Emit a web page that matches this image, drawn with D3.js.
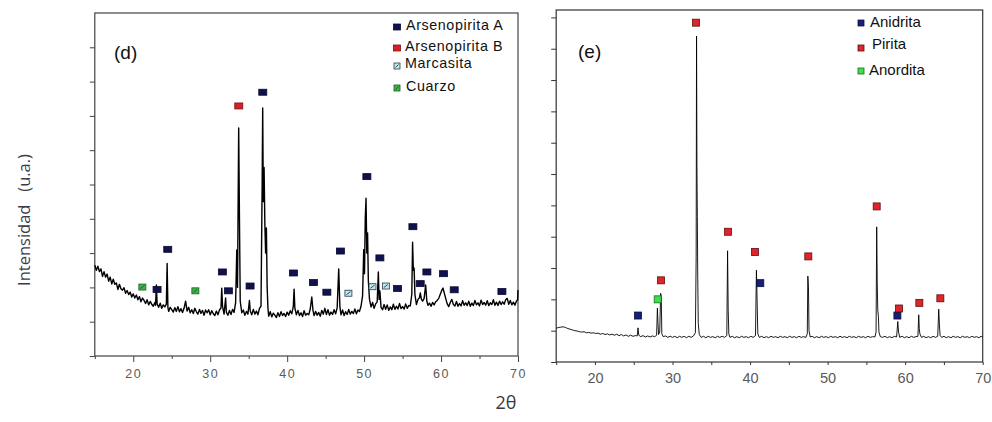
<!DOCTYPE html>
<html><head><meta charset="utf-8">
<script src="https://cdn.jsdelivr.net/npm/d3@7"></script>
<style>body{margin:0;background:#fff}svg{display:block}</style>
</head><body>
<script>
// ---- data (2θ, intensity in arbitrary units 0-100) ----
const xMajorTicks = [20,30,40,50,60,70];
const xMinorTicks = [15,25,35,45,55,65];
const yLabel = "Intensidad   (u.a.)";
const xLabel = "2θ";

const dPattern = [
[15.0,26.5],[15.2,25.0],[15.4,26.2],[15.6,24.6],[15.8,25.4],[16.0,23.2],[16.2,24.6],[16.4,23.0],[16.6,23.9],[16.8,21.8],[17.0,23.0],[17.2,21.0],[17.4,22.4],[17.6,20.9],[17.8,21.3],[18.0,19.4],[18.2,20.9],[18.4,19.6],[18.6,19.2],[18.8,19.9],[19.0,18.3],[19.2,19.1],[19.4,17.9],[19.6,18.6],[19.8,17.2],[20.0,18.1],[20.2,16.9],[20.4,17.8],[20.6,16.4],[20.8,17.3],[21.0,15.8],[21.2,16.9],[21.4,16.2],[21.6,15.3],[21.8,16.4],[22.0,14.9],[22.2,15.9],[22.4,15.1],[22.6,14.5],[22.8,15.6],[22.9,14.8],[23.0,20.7],[23.1,15.2],[23.3,14.2],[23.5,15.4],[23.7,13.9],[23.9,14.9],[24.1,14.3],[24.3,15.1],[24.4,27.0],[24.5,14.2],[24.6,13.0],[24.8,14.2],[25.0,13.5],[25.2,12.8],[25.4,14.1],[25.6,13.0],[25.8,14.4],[26.0,12.9],[26.2,13.8],[26.4,12.7],[26.6,13.9],[26.8,16.0],[27.0,13.1],[27.2,14.2],[27.4,12.6],[27.6,13.5],[27.8,12.4],[28.0,13.9],[28.2,12.9],[28.4,12.2],[28.6,13.6],[28.8,12.4],[29.0,13.3],[29.2,11.9],[29.4,13.4],[29.6,12.6],[29.8,13.5],[30.0,12.0],[30.2,13.2],[30.4,12.3],[30.6,11.8],[30.8,13.1],[31.0,12.0],[31.2,13.4],[31.4,14.0],[31.5,19.8],[31.6,14.5],[31.8,12.2],[32.0,16.9],[32.1,12.7],[32.3,11.9],[32.5,13.3],[32.7,12.1],[32.9,13.6],[33.1,12.7],[33.3,15.5],[33.45,30.9],[33.55,20.0],[33.7,66.5],[33.8,40.0],[33.9,16.0],[34.1,12.6],[34.3,13.4],[34.5,11.9],[34.7,13.0],[34.9,12.2],[35.1,16.2],[35.2,13.1],[35.4,12.0],[35.6,13.6],[35.8,12.2],[36.0,13.1],[36.2,12.0],[36.4,13.9],[36.6,14.5],[36.75,50.0],[36.82,72.3],[36.9,45.0],[37.0,55.0],[37.1,38.5],[37.2,30.0],[37.3,37.3],[37.4,20.0],[37.5,14.0],[37.6,11.6],[37.8,12.9],[38.0,11.4],[38.2,12.5],[38.4,11.9],[38.6,11.2],[38.8,12.6],[39.0,11.5],[39.2,12.9],[39.4,11.8],[39.6,12.4],[39.8,11.5],[40.0,12.8],[40.2,11.9],[40.4,13.2],[40.6,12.3],[40.8,14.5],[40.9,19.5],[41.0,14.0],[41.2,12.0],[41.4,13.3],[41.6,11.8],[41.8,12.6],[42.0,11.5],[42.2,13.2],[42.4,11.9],[42.6,12.4],[42.8,12.0],[43.0,13.7],[43.2,17.2],[43.35,13.4],[43.5,11.8],[43.7,13.0],[43.9,11.9],[44.1,12.7],[44.3,11.6],[44.5,13.3],[44.7,12.2],[44.9,13.9],[45.1,12.1],[45.3,13.5],[45.5,11.9],[45.7,12.8],[45.9,12.1],[46.1,13.5],[46.3,12.3],[46.5,14.1],[46.7,25.4],[46.85,14.4],[47.0,12.0],[47.2,13.4],[47.4,11.8],[47.6,12.9],[47.8,12.1],[48.0,13.6],[48.2,12.2],[48.4,13.0],[48.6,12.4],[48.8,13.7],[49.0,12.3],[49.2,13.4],[49.4,13.0],[49.6,14.5],[49.8,17.5],[49.95,31.0],[50.05,24.0],[50.15,40.0],[50.25,46.0],[50.35,30.0],[50.45,35.9],[50.55,22.0],[50.7,16.5],[50.9,14.3],[51.1,15.6],[51.3,13.9],[51.5,15.2],[51.7,15.8],[51.85,24.5],[51.95,16.5],[52.05,19.0],[52.2,14.2],[52.4,13.5],[52.6,15.0],[52.8,13.6],[53.0,14.9],[53.2,13.3],[53.4,14.3],[53.6,13.5],[53.8,15.1],[54.0,13.6],[54.2,14.5],[54.4,13.7],[54.6,15.3],[54.8,13.8],[55.0,14.4],[55.2,13.7],[55.4,15.2],[55.6,13.9],[55.8,14.7],[56.0,14.6],[56.2,18.0],[56.3,33.2],[56.4,25.0],[56.5,25.6],[56.6,18.0],[56.8,15.0],[57.0,16.5],[57.2,17.0],[57.3,18.4],[57.45,16.5],[57.6,16.0],[57.8,16.8],[58.0,20.7],[58.15,16.0],[58.3,14.8],[58.5,15.4],[58.7,14.5],[58.9,15.6],[59.1,14.9],[59.3,15.8],[59.5,16.2],[59.7,16.8],[59.9,18.0],[60.1,19.2],[60.25,19.8],[60.4,18.5],[60.6,16.8],[60.8,15.2],[61.0,14.4],[61.2,15.6],[61.4,16.5],[61.6,15.0],[61.8,14.6],[62.0,15.9],[62.2,14.5],[62.4,15.3],[62.6,14.6],[62.8,16.1],[63.0,14.8],[63.2,15.5],[63.4,14.7],[63.6,16.0],[63.8,14.5],[64.0,15.4],[64.2,14.7],[64.4,16.2],[64.6,14.9],[64.8,15.5],[65.0,14.6],[65.2,16.3],[65.4,15.0],[65.6,15.6],[65.8,14.8],[66.0,16.1],[66.2,14.7],[66.4,15.5],[66.6,15.0],[66.8,16.4],[67.0,14.8],[67.2,15.7],[67.4,14.7],[67.6,16.0],[67.8,15.0],[68.0,15.8],[68.2,15.1],[68.4,16.4],[68.6,16.8],[68.8,15.1],[69.0,16.2],[69.2,14.9],[69.4,15.7],[69.6,14.8],[69.8,16.0],[69.95,16.4],[70.0,19.2]
];

const ePattern = [
[15.0,9.6],[15.3,9.8],[15.6,9.9],[15.9,10.0],[16.2,9.8],[16.5,9.5],[16.8,9.3],[17.1,9.1],[17.4,8.9],[17.7,8.8],[18.0,8.6],[18.3,8.5],[18.6,8.6],[18.9,8.3],[19.2,8.4],[19.5,8.2],[19.8,8.3],[20.1,8.1],[20.4,8.2],[20.7,7.9],[21.0,8.1],[21.3,7.8],[21.6,8.0],[21.9,7.7],[22.2,7.9],[22.5,7.6],[22.8,7.9],[23.1,7.5],[23.4,7.8],[23.7,7.4],[24.0,7.7],[24.3,7.3],[24.6,7.6],[24.9,7.3],[25.2,7.5],[25.45,7.4],[25.55,9.7],[25.65,7.6],[25.9,7.2],[26.2,7.5],[26.5,7.1],[26.8,7.4],[27.1,7.1],[27.4,7.4],[27.7,7.2],[27.95,7.6],[28.05,15.3],[28.12,11.4],[28.2,7.8],[28.35,8.5],[28.47,19.5],[28.55,18.6],[28.62,8.0],[28.8,7.2],[29.1,7.4],[29.4,7.0],[29.7,7.3],[30.0,7.0],[30.3,7.3],[30.6,6.9],[30.9,7.3],[31.2,7.0],[31.5,7.3],[31.8,6.9],[32.1,7.3],[32.4,7.0],[32.7,7.4],[32.95,8.3],[33.05,30.0],[33.1,92.6],[33.15,55.5],[33.2,41.3],[33.25,24.7],[33.32,11.0],[33.45,7.8],[33.7,7.0],[34.0,7.3],[34.3,6.9],[34.6,7.3],[34.9,7.0],[35.2,7.2],[35.5,6.9],[35.8,7.3],[36.1,7.0],[36.4,7.3],[36.7,7.0],[37.0,7.5],[37.1,31.6],[37.18,14.8],[37.26,8.0],[37.4,7.0],[37.7,7.3],[38.0,6.9],[38.3,7.2],[38.6,6.9],[38.9,7.3],[39.2,7.0],[39.5,7.2],[39.8,6.9],[40.1,7.3],[40.4,7.0],[40.7,7.5],[40.82,26.1],[40.92,16.2],[41.0,8.0],[41.2,7.0],[41.5,7.3],[41.8,6.9],[42.1,7.2],[42.4,6.9],[42.7,7.3],[43.0,7.0],[43.3,7.2],[43.6,6.9],[43.9,7.3],[44.2,7.0],[44.5,7.2],[44.8,6.9],[45.1,7.3],[45.4,7.0],[45.7,7.2],[46.0,6.9],[46.3,7.3],[46.6,7.0],[46.9,7.2],[47.2,7.0],[47.38,8.0],[47.45,24.4],[47.53,21.4],[47.6,9.0],[47.75,7.1],[48.0,7.3],[48.3,6.9],[48.6,7.2],[48.9,6.9],[49.2,7.3],[49.5,7.0],[49.8,7.2],[50.1,6.9],[50.4,7.3],[50.7,7.0],[51.0,7.2],[51.3,6.9],[51.6,7.3],[51.9,7.0],[52.2,7.2],[52.5,6.9],[52.8,7.3],[53.1,7.0],[53.4,7.2],[53.7,6.9],[54.0,7.3],[54.3,7.0],[54.6,7.2],[54.9,6.9],[55.2,7.3],[55.5,7.0],[55.8,7.2],[56.1,7.1],[56.25,8.5],[56.33,38.4],[56.4,22.5],[56.47,14.8],[56.55,13.0],[56.62,8.5],[56.8,7.2],[57.1,7.0],[57.4,7.3],[57.7,6.9],[58.0,7.2],[58.3,6.9],[58.6,7.3],[58.9,7.1],[59.05,11.5],[59.15,8.5],[59.3,7.0],[59.6,7.3],[59.9,6.9],[60.2,7.2],[60.5,6.9],[60.8,7.3],[61.1,7.0],[61.4,7.2],[61.65,7.3],[61.75,13.4],[61.82,9.5],[61.9,8.0],[62.1,7.0],[62.4,7.3],[62.7,6.9],[63.0,7.2],[63.3,6.9],[63.6,7.3],[63.9,7.0],[64.2,7.3],[64.33,15.0],[64.42,10.5],[64.5,7.6],[64.7,7.0],[65.0,7.3],[65.3,6.9],[65.6,7.2],[65.9,6.9],[66.2,7.3],[66.5,7.0],[66.8,7.2],[67.1,6.9],[67.4,7.3],[67.7,7.0],[68.0,7.2],[68.3,6.9],[68.6,7.3],[68.9,7.0],[69.2,7.2],[69.5,6.9],[69.8,7.3],[70.0,7.1]
];

// phase markers [2θ, intensity]
const dArsenopiritaA = [[36.83,76.9],[50.36,52.3],[24.48,31.1],[23.09,19.4],[31.58,24.5],[32.36,19.0],[35.18,20.4],[40.81,24.2],[43.41,21.4],[45.16,18.6],[46.92,30.6],[52.05,28.6],[54.34,19.7],[56.34,37.7],[57.29,21.1],[58.16,24.5],[60.32,24.0],[61.71,19.3],[67.91,18.8]];
const dArsenopiritaB = [[33.71,72.9]];
const dMarcasita = [[47.96,18.3],[51.09,20.2],[52.83,20.4]];
const dCuarzo = [[21.18,20.1],[28.07,19.0]];

const eAnidrita = [[25.55,13.2],[41.32,22.4],[59.0,13.2]];
const ePirita = [[33.03,96.4],[28.52,23.2],[37.16,37.0],[40.64,31.25],[47.51,30.0],[56.33,44.2],[59.21,15.2],[61.83,16.8],[64.54,18.1]];
const eAnordita = [[28.09,17.8]];

const dLegend = ["Arsenopirita A","Arsenopirita B","Marcasita","Cuarzo"];
const eLegend = ["Anidrita","Pirita","Anordita"];

// ---- drawing ----
const W = 992, H = 422;
const svg = d3.select("body").append("svg").attr("width", W).attr("height", H);
const FONT = "'Liberation Sans', Arial, sans-serif";

function panel(o) {
  const x = d3.scaleLinear().domain([15,70]).range([o.x0, o.x1]);
  const y = d3.scaleLinear().domain([0,100]).range([o.y0, o.y1]);
  const g = svg.append("g");

  g.append("rect").attr("x", o.x0).attr("y", o.y1).attr("width", o.x1 - o.x0).attr("height", o.y0 - o.y1)
    .attr("fill", "none").attr("stroke", o.frame).attr("stroke-width", 1.2);

  const yAx = d3.axisLeft(y).tickValues(o.yTicks).tickSize(5).tickFormat("");
  const ya = g.append("g").attr("transform", `translate(${o.x0},0)`).call(yAx);
  ya.select(".domain").remove();
  ya.selectAll("line").attr("stroke", o.frame);

  const xAx = d3.axisBottom(x).tickValues(xMajorTicks).tickSize(o.majT).tickPadding(o.pad).tickFormat(d3.format("d"));
  const xa = g.append("g").attr("transform", `translate(0,${o.y0})`).call(xAx);
  xa.select(".domain").remove();
  xa.selectAll("line").attr("stroke", o.frame);
  xa.selectAll("text").attr("font-family", FONT).attr("font-size", o.tickFont).attr("fill", "#5a5a5a")
    .attr("letter-spacing", o.ls);
  const xm = g.append("g").attr("transform", `translate(0,${o.y0})`)
    .call(d3.axisBottom(x).tickValues(xMinorTicks).tickSize(o.minT).tickFormat(""));
  xm.select(".domain").remove();
  xm.selectAll("line").attr("stroke", o.frame);

  const line = d3.line().x(d => x(d[0])).y(d => y(d[1]));
  g.append("path").datum(o.data).attr("d", line).attr("fill", "none")
    .attr("stroke", "#000").attr("stroke-width", o.lw).attr("stroke-linejoin", "round");

  o.series.forEach(s => {
    const mg = g.append("g");
    mg.selectAll("rect").data(s.pts).join("rect")
      .attr("x", d => x(d[0]) - s.w/2).attr("y", d => y(d[1]) - s.h/2)
      .attr("width", s.w).attr("height", s.h)
      .attr("fill", s.fill).attr("stroke", s.stroke).attr("stroke-width", 0.8);
    if (s.hatch) {
      mg.selectAll("line").data(s.pts).join("line")
        .attr("x1", d => x(d[0]) - s.w/2 + 1.5).attr("y1", d => y(d[1]) + s.h/2 - 1.5)
        .attr("x2", d => x(d[0]) + s.w/2 - 1.5).attr("y2", d => y(d[1]) - s.h/2 + 1.5)
        .attr("stroke", s.hatch).attr("stroke-width", 0.9);
    }
  });

  g.append("text").attr("x", o.lblX).attr("y", o.lblY).text(o.label)
    .attr("font-family", FONT).attr("font-size", 19).attr("fill", "#111");

  o.legend.forEach((name, i) => {
    const s = o.series[i], ly = o.legY[i];
    g.append("rect").attr("x", o.legMX - s.lw/2).attr("y", ly + o.legDy[i] - s.lh/2)
      .attr("width", s.lw).attr("height", s.lh).attr("fill", s.fill).attr("stroke", s.stroke).attr("stroke-width", 0.8);
    if (s.hatch) {
      g.append("line").attr("x1", o.legMX - s.lw/2 + 1.5).attr("y1", ly + o.legDy[i] + s.lh/2 - 1.5)
        .attr("x2", o.legMX + s.lw/2 - 1.5).attr("y2", ly + o.legDy[i] - s.lh/2 + 1.5)
        .attr("stroke", s.hatch).attr("stroke-width", 0.9);
    }
    g.append("text").attr("x", o.legTX[i]).attr("y", ly + 5).text(name)
      .attr("font-family", FONT).attr("font-size", o.legFont).attr("fill", "#111")
      .attr("letter-spacing", o.legLs);
  });
}

panel({
  x0: 94.8, x1: 518, y0: 356, y1: 13, frame: "#444",
  yTicks: [0,10,20,30,40,50,60,70,80,90],
  pad: 7, tickFont: 12.5, ls: 1.5, lw: 1.4, majT: 6, minT: 3,
  data: dPattern,
  series: [
    {pts: dArsenopiritaA, w: 8, h: 6, fill: "#11114f", stroke: "#0a0a30", lw: 7, lh: 6},
    {pts: dArsenopiritaB, w: 8, h: 6, fill: "#d81f26", stroke: "#7a1010", lw: 7, lh: 6},
    {pts: dMarcasita, w: 7, h: 6, fill: "#bfe9ea", stroke: "#223a4a", hatch: "#223a4a", lw: 6, lh: 6},
    {pts: dCuarzo, w: 7, h: 6, fill: "#3bb54a", stroke: "#1e5a22", hatch: "#1e5a22", lw: 6, lh: 6}
  ],
  label: "(d)", lblX: 114, lblY: 59,
  legend: dLegend, legMX: 397, legTX: [406, 405, 405, 406], legY: [25, 46, 63, 86], legDy: [2, 2, 3, 2],
  legFont: 14.3, legLs: 0.6
});

panel({
  x0: 556.2, x1: 982.7, y0: 362, y1: 10, frame: "#333",
  yTicks: [0,8.9,17.8,26.7,35.6,44.5,53.4,62.3,71.2,80.1,89.0,97.9],
  pad: 8, tickFont: 14.5, ls: 0, lw: 0.9, majT: 3, minT: 3,
  data: ePattern,
  series: [
    {pts: eAnidrita, w: 7, h: 7, fill: "#16207a", stroke: "#0b0f3a", lw: 6, lh: 6},
    {pts: ePirita, w: 7, h: 7, fill: "#e0242a", stroke: "#5a1010", lw: 6, lh: 6},
    {pts: eAnordita, w: 7, h: 7, fill: "#3be04a", stroke: "#1a6a22", lw: 6, lh: 6}
  ],
  label: "(e)", lblX: 578, lblY: 58,
  legend: eLegend, legMX: 861, legTX: [870, 872, 869], legY: [22, 44, 70], legDy: [1, 4, 1],
  legFont: 15, legLs: 0
});

svg.append("text").attr("transform", "translate(30,220) rotate(-90)").attr("text-anchor", "middle")
  .style("white-space", "pre")
  .text(yLabel).attr("font-family", "'Open Sans', 'Liberation Sans', sans-serif").attr("font-size", 16.5).attr("fill", "#3c3c46");
svg.append("text").attr("x", 506).attr("y", 409).attr("text-anchor", "middle")
  .text(xLabel).attr("font-family", "'Open Sans', 'Liberation Sans', sans-serif").attr("font-size", 18).attr("fill", "#3a3a3a");
</script>
</body></html>
